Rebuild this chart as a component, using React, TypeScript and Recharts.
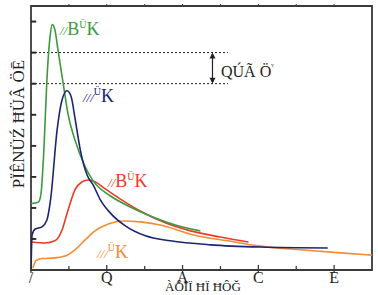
import React from 'react';
import { LineChart, Line, XAxis, YAxis, ReferenceLine, ReferenceArea } from 'recharts';

// ---- data ----
const xTickValues = [0, 1, 2, 3, 4, 5, 6, 7, 8];
const xTickLabels = ['/', '', 'Q', '', 'A', '', 'C', '', 'E'];
const yTickValues = [1, 2, 3, 4, 5, 6, 7, 8];
const topTickValues = [1, 2, 3, 4, 5, 6, 7, 8];

const greenX = [0, 0.19, 0.26, 0.34, 0.42, 0.5, 0.56, 0.63, 0.71, 0.85, 0.98, 1.16, 1.43, 1.64, 2.09, 2.62, 3.15, 3.81, 4.47];
const greenY = [2.14, 2.18, 2.42, 3.87, 6.13, 7.48, 7.9, 7.74, 7.1, 6.0, 5.0, 4.19, 3.32, 2.87, 2.39, 2.03, 1.74, 1.45, 1.26];

const blueX = [0, 0.03, 0.11, 0.29, 0.42, 0.52, 0.69, 0.82, 0.95, 1.06, 1.16, 1.3, 1.48, 1.64, 1.83, 2.09, 2.49, 3.02, 3.68, 4.74, 6.06, 7.83];
const blueY = [0, 1.13, 1.32, 1.39, 1.61, 2.3, 4.52, 5.48, 5.77, 5.58, 4.9, 3.87, 3.06, 2.74, 2.26, 1.84, 1.42, 1.1, 0.94, 0.81, 0.74, 0.71];

const redX = [0.03, 0.37, 0.63, 0.82, 0.98, 1.16, 1.35, 1.51, 1.69, 1.96, 2.35, 2.88, 3.54, 4.21, 5.0, 5.74];
const redY = [0.9, 0.87, 0.94, 1.29, 1.94, 2.58, 2.84, 2.9, 2.84, 2.61, 2.29, 1.9, 1.52, 1.26, 1.06, 0.9];

const orangeX = [0.05, 0.13, 0.29, 0.63, 0.9, 1.16, 1.43, 1.69, 2.04, 2.43, 2.88, 3.41, 4.29, 5.19, 6.06, 7.12, 8.17, 9.0];
const orangeY = [0.06, 0.3, 0.37, 0.39, 0.45, 0.65, 0.97, 1.26, 1.48, 1.58, 1.55, 1.45, 1.13, 0.94, 0.77, 0.65, 0.55, 0.48];

const dashLevels = [7, 6];
const dashEndX = 5.2;
const arrowX = 4.79;

const toPoints = (xs: number[], ys: number[]) => xs.map((x, i) => ({ x, y: ys[i] }));

const green = toPoints(greenX, greenY);
const blue = toPoints(blueX, blueY);
const red = toPoints(redX, redY);
const orange = toPoints(orangeX, orangeY);

const GREEN = '#3c9a3c';
const BLUE = '#1d2472';
const RED = '#ec3a28';
const ORANGE = '#f68b34';
const AXIS = '#3a3a3a';
const FONT = '"Liberation Serif", "DejaVu Serif", serif';

const BottomTick = (props: any) => {
  const { x, y, payload } = props;
  const v = payload.value;
  const major = v % 2 === 0;
  const label = xTickLabels[xTickValues.indexOf(v)];
  return (
    <g>
      <line x1={x} x2={x} y1={y + (major ? 3 : 0)} y2={y - (major ? 5 : 4)} stroke={AXIS} strokeWidth={1.3} />
      {label ? (
        <text x={x} y={y + 13} textAnchor="middle" fontFamily={FONT} fontSize={16} fill="#222">
          {label}
        </text>
      ) : null}
    </g>
  );
};

const LeftTick = (props: any) => {
  const { x, y } = props;
  return (
    <g>
      <line x1={x} x2={x + 5} y1={y} y2={y} stroke="#2a2a2a" strokeWidth={1.6} />
    </g>
  );
};

const TopTick = (props: any) => {
  const { x, y } = props;
  return <line x1={x} x2={x} y1={y} y2={y - 2} stroke={AXIS} strokeWidth={1} />;
};

const DoubleArrow = (props: any) => {
  const { x1, y1, x2, y2 } = props;
  const top = Math.min(y1, y2);
  const bot = Math.max(y1, y2);
  return (
    <g>
      <line x1={x1} x2={x2} y1={top + 2} y2={bot - 2} stroke="#222" strokeWidth={1.2} />
      <path d={`M${x1 - 3},${top + 6} L${x1},${top} L${x1 + 3},${top + 6} Z`} fill="#222" />
      <path d={`M${x1 - 3},${bot - 6} L${x1},${bot} L${x1 + 3},${bot - 6} Z`} fill="#222" />
    </g>
  );
};

const SeriesLabel = ({ x, y, color, mid, head }: { x: number; y: number; color: string; mid: string; head: string }) => (
  <text x={x} y={y} fill={color} fontFamily={FONT}>
    <tspan fontSize={13} fontStyle="italic">{head}</tspan>
    <tspan fontSize={18}>{mid}</tspan>
    <tspan fontSize={10} dy={-7}>Ü</tspan>
    <tspan fontSize={18} dy={7}>K</tspan>
  </text>
);

export default function App() {
  return (
    <div style={{ position: 'absolute', left: 0, top: 0, width: 378, height: 295, background: '#fff' }}>
      <LineChart width={378} height={295} margin={{ top: 0, right: 6, left: 0, bottom: 0 }}>
        <XAxis
          dataKey="x"
          type="number"
          domain={[0, 9]}
          ticks={xTickValues}
          interval={0}
          allowDataOverflow
          height={25}
          tickSize={0}
          tickMargin={0}
          tickLine={false}
          axisLine={{ stroke: AXIS, strokeWidth: 1.8 }}
          tick={<BottomTick />}
        />
        <XAxis
          xAxisId="top"
          orientation="top"
          dataKey="x"
          type="number"
          domain={[0, 9]}
          ticks={topTickValues}
          interval={0}
          allowDataOverflow
          height={6}
          tickSize={0}
          tickMargin={0}
          tickLine={false}
          axisLine={false}
          tick={<TopTick />}
        />
        <YAxis
          type="number"
          domain={[0, 8.5]}
          ticks={yTickValues}
          interval={0}
          allowDataOverflow
          width={31}
          tickSize={0}
          tickMargin={0}
          tickLine={false}
          axisLine={false}
          tick={<LeftTick />}
        />
        <ReferenceArea x1={0} x2={9} y1={0} y2={8.5} fill="none" stroke={AXIS} strokeWidth={1.8} ifOverflow="visible" />
        {yTickValues.map((v) => (
          <ReferenceLine
            key={'yt' + v}
            segment={[{ x: 0, y: v }, { x: 0.14, y: v }]}
            stroke="#2a2a2a"
            strokeWidth={1.6}
          />
        ))}
        {dashLevels.map((lv) => (
          <ReferenceLine
            key={lv}
            segment={[{ x: 0, y: lv }, { x: dashEndX, y: lv }]}
            stroke="#222"
            strokeWidth={1}
            strokeDasharray="2 2"
          />
        ))}
        <ReferenceLine
          segment={[{ x: arrowX, y: dashLevels[0] }, { x: arrowX, y: dashLevels[1] }]}
          shape={<DoubleArrow />}
        />
        <Line data={orange} dataKey="y" type="monotone" stroke={ORANGE} strokeWidth={1.6} dot={false} isAnimationActive={false} />
        <Line data={red} dataKey="y" type="monotone" stroke={RED} strokeWidth={1.6} dot={false} isAnimationActive={false} />
        <Line data={green} dataKey="y" type="monotone" stroke={GREEN} strokeWidth={1.6} dot={false} isAnimationActive={false} />
        <Line data={blue} dataKey="y" type="monotone" stroke={BLUE} strokeWidth={1.6} dot={false} isAnimationActive={false} />
      </LineChart>
      <svg width={378} height={295} style={{ position: 'absolute', left: 0, top: 0, pointerEvents: 'none' }}>
        <SeriesLabel x={60} y={35} color={GREEN} head="//" mid="B" />
        <SeriesLabel x={83} y={102} color={BLUE} head="///" mid="" />
        <SeriesLabel x={108} y={187} color={RED} head="//" mid="B" />
        <SeriesLabel x={97} y={258} color={ORANGE} head="///" mid="" />
        <text x={221} y={77} fontFamily={FONT} fontSize={16} fill="#222">
          QÚÃ Ö<tspan fontSize={8} dy={-8}>ᵛ</tspan>
        </text>
        <text x={203} y={291} textAnchor="middle" fontFamily={FONT} fontSize={13} fill="#222">
          ÀÔĪÏ ĦÏ ĦÔĞ
        </text>
        <text
          x={24}
          y={124}
          textAnchor="middle"
          fontFamily={FONT}
          fontSize={17}
          fill="#222"
          transform="rotate(-90 24 124)"
        >
          PÏÊNÜŹ ĦÜÂ ÖĒ
        </text>
      </svg>
    </div>
  );
}
